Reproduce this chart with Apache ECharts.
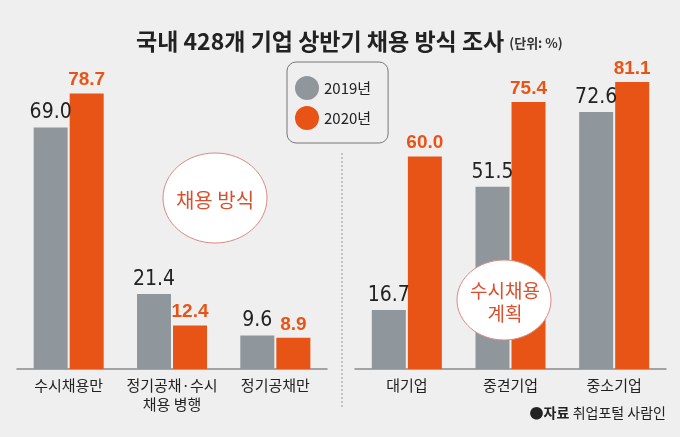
<!DOCTYPE html>
<html>
<head>
<meta charset="utf-8">
<script src="https://cdn.jsdelivr.net/npm/echarts@6/dist/echarts.min.js"></script>
<style>
html,body{margin:0;padding:0;background:#efefef;}
#c{width:680px;height:437px;}
</style>
</head>
<body>
<div id="c"></div>
<script>
const titleText = '국내 428개 기업 상반기 채용 방식 조사';
const unitText = '(단위: %)';
const seriesNames = ['2019년', '2020년'];
const methodCategories = ['수시채용만', '정기공채·수시\n채용 병행', '정기공채만'];
const method2019 = [69.0, 21.4, 9.6];
const method2020 = [78.7, 12.4, 8.9];
const sizeCategories = ['대기업', '중견기업', '중소기업'];
const size2019 = [16.7, 51.5, 72.6];
const size2020 = [60.0, 75.4, 81.1];
const bubble1 = '채용 방식';
const bubble2 = '수시채용\n계획';
const sourceLabel = '자료';
const sourceText = '취업포털 사람인';

const GRAY = '#8f979c';
const ORANGE = '#e85416';
const KR = '"Noto Sans CJK KR", "Noto Sans", sans-serif';
const NUM = '"Liberation Sans Narrow", "DejaVu Sans Condensed", "Noto Sans CJK KR", sans-serif';

const chart = echarts.init(document.getElementById('c'), null, {renderer: 'canvas'});

function barSeries(name, data, idx, color, isOrange) {
  return {
    name: name,
    type: 'bar',
    xAxisIndex: idx,
    yAxisIndex: idx,
    data: data,
    barWidth: 34,
    barGap: '6%',
    itemStyle: {color: color},
    label: {
      show: true,
      position: 'top',
      distance: 4,
      formatter: p => p.value.toFixed(1),
      color: isOrange ? ORANGE : '#222',
      fontFamily: isOrange ? '"Liberation Sans", Arial, sans-serif' : NUM,
      fontWeight: isOrange ? 'bold' : 'normal',
      fontSize: isOrange ? 19 : 21
    },
    emphasis: {disabled: true},
    animation: false
  };
}

const xAxisCommon = {
  type: 'category',
  axisLine: {show: true, lineStyle: {color: '#8a8a8a', width: 1.5}},
  axisTick: {show: false},
  axisLabel: {color: '#222', fontSize: 15, fontFamily: KR, margin: 7, lineHeight: 19, interval: 0}
};
const yAxisCommon = {type: 'value', min: 0, max: 100, show: false, splitLine: {show: false}};

chart.setOption({
  backgroundColor: '#efefef',
  animation: false,
  title: {
    text: '{a|' + titleText + '} {b|' + unitText + '}',
    left: 131,
    top: 25,
    textStyle: {
      rich: {
        a: {fontFamily: KR, fontWeight: 'bold', fontSize: 23, color: '#222'},
        b: {fontFamily: KR, fontSize: 13, color: '#333', padding: [4, 0, 0, 0]}
      }
    }
  },
  legend: {
    data: seriesNames,
    orient: 'vertical',
    left: 287,
    top: 62,
    itemWidth: 24,
    itemHeight: 24,
    itemGap: 6,
    icon: 'circle',
    padding: [14, 17, 13, 8],
    borderColor: '#777',
    borderWidth: 1,
    borderRadius: 9,
    textStyle: {color: '#222', fontSize: 15, fontFamily: KR},
    selectedMode: false
  },
  grid: [
    {left: 17, width: 310, top: 19, height: 350, outerBoundsMode: 'none'},
    {left: 355, width: 311, top: 15, height: 354, outerBoundsMode: 'none'}
  ],
  xAxis: [
    Object.assign({gridIndex: 0, data: methodCategories}, xAxisCommon),
    Object.assign({gridIndex: 1, data: sizeCategories}, xAxisCommon)
  ],
  yAxis: [
    Object.assign({gridIndex: 0}, yAxisCommon),
    Object.assign({gridIndex: 1}, yAxisCommon)
  ],
  series: [
    barSeries(seriesNames[0], method2019, 0, GRAY, false),
    barSeries(seriesNames[1], method2020, 0, ORANGE, true),
    barSeries(seriesNames[0], size2019, 1, GRAY, false),
    barSeries(seriesNames[1], size2020, 1, ORANGE, true)
  ],
  graphic: [
    {
      type: 'line',
      shape: {x1: 342, y1: 153, x2: 342, y2: 409},
      style: {stroke: '#999', lineWidth: 1, lineDash: [2, 2]}
    },
    {
      type: 'ellipse',
      shape: {cx: 215, cy: 198, rx: 52, ry: 45},
      style: {fill: '#fff', stroke: '#d98a86', lineWidth: 1},
      z: 10
    },
    {
      type: 'text',
      x: 215, y: 200,
      style: {text: bubble1, fill: '#d9502e', fontSize: 20, fontFamily: KR, align: 'center', verticalAlign: 'middle'},
      z: 11
    },
    {
      type: 'ellipse',
      shape: {cx: 504, cy: 300, rx: 47, ry: 40},
      style: {fill: '#fff', stroke: '#d98a86', lineWidth: 1},
      z: 10
    },
    {
      type: 'text',
      x: 505, y: 302,
      style: {text: bubble2, fill: '#d9502e', fontSize: 19, fontFamily: KR, align: 'center', verticalAlign: 'middle', lineHeight: 23},
      z: 11
    },
    {
      type: 'text',
      x: 666, y: 413,
      style: {
        text: '{d|●}{b|' + sourceLabel + '} {n|' + sourceText + '}',
        align: 'right', verticalAlign: 'middle',
        rich: {
          d: {fontSize: 14, fill: '#222', fontFamily: KR},
          b: {fontSize: 14, fontWeight: 'bold', fill: '#222', fontFamily: KR},
          n: {fontSize: 14, fill: '#222', fontFamily: KR}
        }
      },
      z: 11
    }
  ]
});
</script>
</body>
</html>
